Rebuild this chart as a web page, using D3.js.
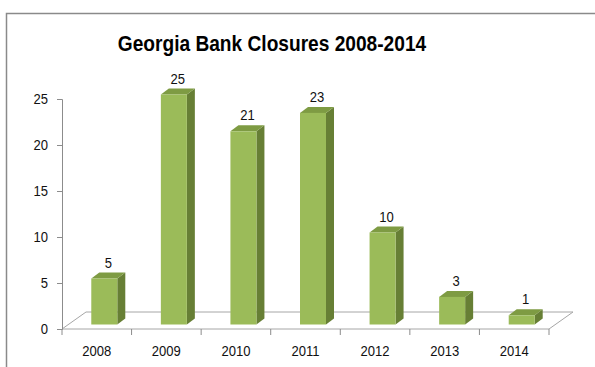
<!DOCTYPE html>
<html>
<head>
<meta charset="utf-8">
<script src="https://cdn.jsdelivr.net/npm/d3@7"></script>
<style>
  body { margin: 0; background: #fff; }
  text { font-family: "Liberation Sans", Arial, sans-serif; }
</style>
</head>
<body>
<svg width="595" height="367"></svg>
<script>
const width = 595;
const height = 367;

const years = ['2008', '2009', '2010', '2011', '2012', '2013', '2014'];
const closures = [5, 25, 21, 23, 10, 3, 1];
const yTicks = [0, 5, 10, 15, 20, 25];

const squeeze = 0.87; // text in the picture is a bit condensed

const svg = d3.select('svg');

// outer chart frame (right edge is cut off in the picture)
svg.append('path')
  .attr('d', `M6.5,${height} L6.5,13.5 L${width},13.5`)
  .attr('fill', 'none')
  .attr('stroke', '#8a8a8a')
  .attr('stroke-width', 1.5);

svg.append('text')
  .attr('transform', `translate(272,51) scale(${squeeze},1)`)
  .attr('text-anchor', 'middle')
  .attr('font-size', 22)
  .attr('font-weight', 'bold')
  .text('Georgia Bank Closures 2008-2014');

const xScale = d3.scaleBand()
  .domain(years)
  .range([62, 549]);

const yScale = d3.scaleLinear()
  .domain([0, 25])
  .range([329, 99]);

// 3d offsets
const depthX = 24, depthY = -17;   // floor depth
const fx = 7.5, fy = -4.5;         // bar front face shift into the floor
const bw = 26, bdx = 8, bdy = -6;  // bar width and depth

// floor
const x0 = xScale.range()[0], x1 = xScale.range()[1], yb = yScale(0);
svg.append('path')
  .attr('d', `M${x0},${yb} L${x1},${yb} L${x1 + depthX},${yb + depthY} L${x0 + depthX},${yb + depthY} Z`)
  .attr('fill', 'none')
  .attr('stroke', '#a6a6a6')
  .attr('stroke-width', 1);

// y axis
const yAxis = svg.append('g')
  .attr('transform', `translate(${x0},0)`)
  .call(d3.axisLeft(yScale).tickValues(yTicks).tickSize(5).tickPadding(9));
yAxis.select('.domain').attr('stroke', '#8c8c8c');
yAxis.selectAll('.tick line').attr('stroke', '#8c8c8c');
yAxis.selectAll('text')
  .attr('transform', function () { return `translate(${this.getAttribute('x')},0) scale(${squeeze},1)`; })
  .attr('x', 0)
  .attr('font-size', 15)
  .attr('font-family', '"Liberation Sans", Arial, sans-serif')
  .attr('fill', '#111');

// x axis: ticks at category boundaries, labels centred
const bounds = years.map(d => xScale(d)).concat([x1]);
svg.selectAll('.xtick')
  .data(bounds)
  .enter().append('line')
  .attr('x1', d => d)
  .attr('x2', d => d)
  .attr('y1', yb)
  .attr('y2', yb + 6)
  .attr('stroke', '#8c8c8c');

svg.selectAll('.xlabel')
  .data(years)
  .enter().append('text')
  .attr('transform', d => `translate(${xScale(d) + xScale.bandwidth() / 2},356) scale(${squeeze},1)`)
  .attr('text-anchor', 'middle')
  .attr('font-size', 15)
  .attr('fill', '#111')
  .text(d => d);

// bars
const bars = svg.selectAll('.bar')
  .data(years.map((y, i) => ({ year: y, value: closures[i] })))
  .enter().append('g');

const barLeft = d => xScale(d.year) + xScale.bandwidth() / 2 + fx - bw / 2;
const barTop = d => yScale(d.value) + fy;
const barBottom = yb + fy;

bars.append('path')
  .attr('d', d => {
    const l = barLeft(d), t = barTop(d);
    return `M${l + bw},${t} L${l + bw + bdx},${t + bdy} L${l + bw + bdx},${barBottom + bdy} L${l + bw},${barBottom} Z`;
  })
  .attr('fill', '#677f35');

bars.append('path')
  .attr('d', d => {
    const l = barLeft(d), t = barTop(d);
    return `M${l},${t} L${l + bdx},${t + bdy} L${l + bw + bdx},${t + bdy} L${l + bw},${t} Z`;
  })
  .attr('fill', '#7e9b43');

bars.append('rect')
  .attr('x', barLeft)
  .attr('y', barTop)
  .attr('width', bw)
  .attr('height', d => barBottom - barTop(d))
  .attr('fill', '#9bbb59');

bars.append('text')
  .attr('transform', d => `translate(${barLeft(d) + bw / 2 + bdx / 2},${barTop(d) + bdy - 5}) scale(${squeeze},1)`)
  .attr('text-anchor', 'middle')
  .attr('font-size', 15)
  .attr('fill', '#111')
  .text(d => d.value);
</script>
</body>
</html>
